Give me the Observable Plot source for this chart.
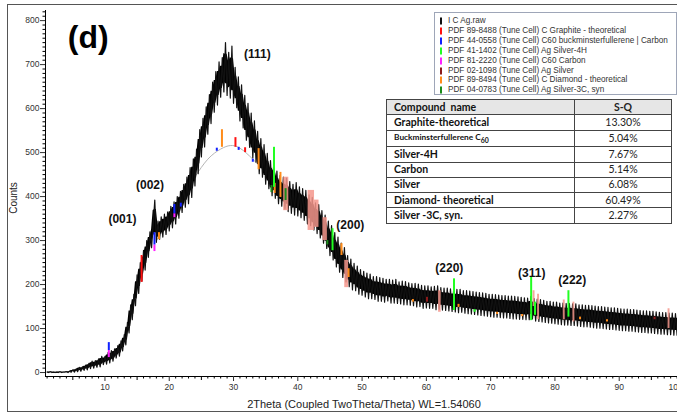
<!DOCTYPE html>
<html><head><meta charset="utf-8">
<script src="https://cdn.jsdelivr.net/npm/d3@7"></script>
<script src="https://cdn.jsdelivr.net/npm/@observablehq/plot@0.6"></script>
<style>
html,body{margin:0;padding:0;background:#fff;overflow:hidden;width:677px;height:414px;}
#wrap{position:relative;width:677px;height:414px;overflow:hidden;font-family:"Liberation Sans",Arial,sans-serif;}
#chart{position:absolute;left:0;top:0;width:690px;}
#chart svg{max-width:none !important;}
#frame{position:absolute;left:7px;top:4px;width:720px;height:408px;border:1.5px solid #555;box-sizing:border-box;pointer-events:none;}
#ylab{position:absolute;left:13px;top:198px;transform:translate(-50%,-50%) rotate(-90deg);font-size:10px;color:#222;white-space:nowrap;}
#xlab{position:absolute;left:364px;top:398px;transform:translateX(-50%);font-size:11px;color:#222;white-space:nowrap;}
#legend{position:absolute;left:434px;top:12px;width:243px;height:83px;border:1px solid #9ea6b8;box-sizing:border-box;background:#fff;}
.lrow{position:absolute;left:13px;font-size:8.2px;color:#333;white-space:nowrap;line-height:10px;transform:translateY(-50%);}
.lmk{position:absolute;left:5px;width:2.2px;height:7px;transform:translateY(-50%);}
#tbl{position:absolute;left:386px;top:99px;width:286px;border-collapse:collapse;font-family:Lato,"Open Sans",sans-serif;background:#fff;border:1px solid #222;}
#tbl td{border:1px solid #444;height:14.3px;padding:0 0 0 7px;font-size:10.5px;font-weight:bold;color:#111;line-height:13px;white-space:nowrap;}
#tbl td.v{font-weight:normal;text-align:center;padding:0;color:#222;width:96px;}
#tbl tr.h td{background:#e6e6e6;}
#tbl td.small{font-size:8.3px;}
</style></head>
<body><div id="wrap"><div id="chart"></div><div id="frame"></div>
<div id="ylab">Counts</div><div id="xlab">2Theta (Coupled TwoTheta/Theta) WL=1.54060</div>
<div id="legend"></div><table id="tbl"></table></div>
<script>
// ---- data ----
const xDomain = [0.75, 100];
const yDomain = [-9, 823];
const scanStart = 1, scanStep = 0.25;
const counts = [
1,0,2,0, 1,0,1,0, 2,0,1,1, 2,0,3,1, 6,1,8,2, 12,3,13,5, 17,6,21,9, 26,10,27,12, 31,13,37,18,
37,19,46,22, 50,26,54,33, 61,37,72,49, 86,63,114,90, 154,120,178,152, 222,180,250,208, 278,233,300,262, 320,284,336,392, 296,344,303,354, 308,360,314,365,
322,378,329,388, 338,400,351,412, 364,428,376,444, 384,466,398,486, 424,508,452,552, 490,578,513,604, 542,632,566,660, 592,684,608,706, 626,716,638,750, 630,728,624,742,
612,694,602,672, 572,654,556,630, 528,612,512,590, 488,572,478,548, 452,532,444,518, 428,498,418,482, 402,474,396,458, 384,448,378,444, 372,442,366,434, 362,428,358,432,
356,422,352,418, 346,414,338,404, 334,398,324,386, 316,382,306,368, 294,358,282,344, 266,334,256,318, 240,308,228,294, 216,284,206,266, 195,258,188,248, 186,242,178,234,
176,230,172,226, 168,224,168,218, 166,218,162,216, 162,214,160,212, 163,212,158,210, 158,212,157,206, 156,208,154,207, 154,204,153,202, 152,203,149,201, 150,198,146,197,
147,197,146,195, 146,196,143,197, 144,193,142,192, 141,192,140,190, 139,190,138,189, 136,189,137,186, 135,186,134,185, 133,184,132,183, 131,182,130,181, 129,180,128,178,
127,178,126,177, 126,176,125,175, 124,175,124,174, 123,174,122,173, 122,172,121,171, 121,170,120,169, 120,173,122,168, 117,167,116,166, 115,164,114,162, 113,162,112,160,
111,160,110,158, 109,158,108,157, 108,157,107,156, 107,156,106,154, 105,154,104,153, 104,153,103,152, 102,151,101,150, 101,150,100,149, 99,148,98,147, 98,147,97,146,
96,145,95,144, 95,144,94,143, 94,143,93,142, 92,141,91,140, 91,140,90,139, 90,139,89,138, 88,137,87,136, 87,136,86,135, 86,135,85,134, 85,134,84,133,
110
];
// background fit curve
const bgTheta = [18, 20, 22, 24, 26, 28, 29.5, 31, 33, 35, 37, 39];
const bgCounts = [300, 345, 400, 445, 485, 508, 516, 510, 485, 452, 412, 380];
// reference sticks: [2theta, from, to]
const graphite = [[15.7,205,266],[30.3,512,534],[31.8,500,511]];
const c60buck = [[10.6,50,68],[17.7,290,318],[20.8,361,382],[21.8,376,385],[27.4,503,510],[30.8,505,512],[33.0,478,485]];
const silver4H = [[36.3,421,512],[45.4,277,327],[64.3,141,213],[67.5,137,143],[76.3,118,217],[76.9,130,160],[82.1,126,186]];
const c60carbon = [[10.6,34,50],[17.7,275,290],[20.8,352,361]];
const silver = [[60.1,160,171],[95.5,120,126]];
const diamond = [[18.4,302,318],[28.2,512,552],[33.9,461,509],[36.4,407,430],[37.3,398,455],[46.8,266,293],[47.9,216,236],[57.9,160,166],[65.0,148,155],[71.0,132,137],[74.9,127,132],[83.9,120,126],[88.1,115,120]];
const silver3C = [[35.9,409,425],[38.1,391,418],[44.6,290,300]];
// light red overlay bands: [2theta from, 2theta to, from, to]
const overlay = [[37.8,38.6,368,444],[41.6,42.6,323,414],[42.6,43.3,330,392],[43.9,44.6,300,352],[47.3,47.9,193,255],[61.9,62.3,137,186],[76.6,76.9,150,186],[77.3,77.6,120,178],[81.3,81.6,120,165],[82.8,83.1,115,160],[97.6,97.9,100,145]];
const peakNames = ["(001)","(002)","(111)","(200)","(220)","(311)","(222)"];
const peakTheta = [12.72, 17.0, 33.71, 48.17, 63.57, 76.40, 82.69];
const peakCounts = [348, 426, 723, 335, 238, 226, 209];
const panelLabel = [{t: 7.4, c: 762, text: "(d)"}];
const xMajor = [10,20,30,40,50,60,70,80,90];
const xLast = [100];
const yMajor = [0,100,200,300,400,500,600,700,800];
const legendNames = ["I C Ag.raw","PDF 89-8488 (Tune Cell) C Graphite - theoretical","PDF 44-0558 (Tune Cell) C60 buckminsterfullerene | Carbon","PDF 41-1402 (Tune Cell) Ag Silver-4H","PDF 81-2220 (Tune Cell) C60 Carbon","PDF 02-1098 (Tune Cell) Ag Silver","PDF 89-8494 (Tune Cell) C Diamond - theoretical","PDF 04-0783 (Tune Cell) Ag Silver-3C, syn"];
const legendColors = ["#111111","#ff1010","#1020ff","#22ff22","#ff20ff","#8b1a1a","#ff8c1a","#1a8c1a"];
const compounds = ["Graphite-theoretical","Buckminsterfullerene C<sub>60</sub>","Silver-4H","Carbon","Silver","Diamond- theoretical","Silver -3C, syn."];
const sqValues = ["13.30%","5.04%","7.67%","5.14%","6.08%","60.49%","2.27%"];

// ---- build ----
const scan = counts.map((c, i) => {
  const nb = counts.slice(Math.max(0, i - 1), i + 2);
  const lo = d3.min(nb), hi = d3.max(nb), r = hi - lo;
  return {t: scanStart + i * scanStep, c, lo: lo + 0.22 * r, hi: hi - 0.22 * r};
});
const bg = bgTheta.map((t, i) => ({t, c: bgCounts[i]}));
const peaks = peakNames.map((text, i) => ({t: peakTheta[i], c: peakCounts[i], text}));
const stick = (arr, color) => Plot.ruleX(arr, {x: d => d[0], y1: d => d[1], y2: d => d[2], stroke: color, strokeWidth: 2});
const minorX = d3.range(1, 101, 1).filter(v => v % 5 !== 0);
const midX = d3.range(5, 101, 10);
const minorY = d3.range(0, 821, 10).filter(v => v % 100 !== 0);

const chart = Plot.plot({
  width: 690, height: 414,
  marginLeft: 45, marginRight: 7, marginTop: 10, marginBottom: 38,
  x: {domain: xDomain, axis: null},
  y: {domain: yDomain, axis: null},
  style: {fontFamily: "Liberation Sans, Arial, sans-serif", background: "transparent", overflow: "visible", maxWidth: "none"},
  marks: [
    Plot.line(bg, {x: "t", y: "c", stroke: "#b5b5b5", strokeWidth: 1, curve: "natural"}),
    Plot.areaY(scan, {x: "t", y1: "lo", y2: "hi", fill: "#000"}),
    Plot.line(scan, {x: "t", y: "c", stroke: "#111", strokeWidth: 1.2}),
    Plot.rect(overlay, {x1: d => d[0], x2: d => d[1], y1: d => d[2], y2: d => d[3], fill: "#f4968c", fillOpacity: 0.85}),
    stick(c60carbon, legendColors[4]),
    stick(c60buck, legendColors[2]),
    stick(graphite, legendColors[1]),
    stick(silver, legendColors[5]),
    stick(diamond, legendColors[6]),
    stick(silver3C, legendColors[7]),
    stick(silver4H, legendColors[3]),
    Plot.ruleX([xDomain[0]], {stroke: "#000", strokeWidth: 1}),
    Plot.ruleY([yDomain[0]], {stroke: "#000", strokeWidth: 1}),
    Plot.axisX(xMajor, {anchor: "bottom", tickSize: 5, tickPadding: 2, fontSize: 8.5, label: null, color: "#333"}),
    Plot.axisX(xLast, {anchor: "bottom", tickSize: 0, tickPadding: 7, fontSize: 8.5, label: null, color: "#333", textAnchor: "start", dx: -15}),
    Plot.axisX(midX, {anchor: "bottom", tickSize: 4, tickFormat: () => "", label: null}),
    Plot.axisX(minorX, {anchor: "bottom", tickSize: 2.5, tickFormat: () => "", label: null}),
    Plot.axisY(yMajor, {anchor: "left", tickSize: 5, tickPadding: 1, fontSize: 8.5, label: null, color: "#333"}),
    Plot.axisY(minorY, {anchor: "left", tickSize: 2.5, tickFormat: () => "", label: null}),
    Plot.text(peaks, {x: "t", y: "c", text: "text", fontSize: 12, fontWeight: "bold", fill: "#111"}),
    Plot.text(panelLabel, {x: "t", y: "c", text: "text", fontSize: 32, fontWeight: "bold", fill: "#000"})
  ]
});
chart.style.maxWidth = "none";
document.getElementById("chart").appendChild(chart);

const lg = document.getElementById("legend");
legendNames.forEach((name, i) => {
  const top = 8 + i * 9.9;
  const mk = document.createElement("div");
  mk.className = "lmk"; mk.style.top = top + "px"; mk.style.background = legendColors[i];
  const tx = document.createElement("div");
  tx.className = "lrow"; tx.style.top = top + "px"; tx.textContent = name;
  lg.appendChild(mk); lg.appendChild(tx);
});
const tb = document.getElementById("tbl");
let html = '<tr class="h"><td>Compound&nbsp;&nbsp;name</td><td class="v" style="font-weight:bold">S-Q</td></tr>';
compounds.forEach((c, i) => {
  html += `<tr><td${i === 1 ? ' class="small"' : ''}>${c}</td><td class="v">${sqValues[i]}</td></tr>`;
});
tb.innerHTML = html;
</script></body></html>
